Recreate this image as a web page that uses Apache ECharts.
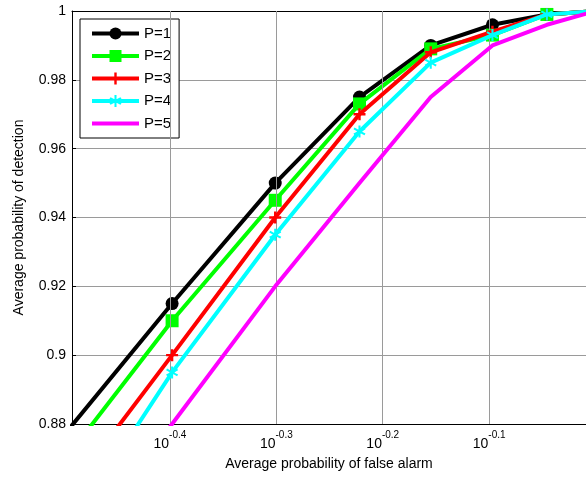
<!DOCTYPE html>
<html>
<head>
<meta charset="utf-8">
<script src="https://cdn.jsdelivr.net/npm/echarts@6/dist/echarts.min.js"></script>
<style>
html,body{margin:0;padding:0;background:#fff;}
#c{width:586px;height:478px;}
</style>
</head>
<body>
<div id="c"></div>
<script>
// False-alarm probabilities (x, plotted on a log10 axis)
const falseAlarm = [0.3, 0.4, 0.5, 0.6, 0.7, 0.8, 0.9, 1.0];
// Detection probabilities per P
const P1 = [0.868, 0.915, 0.950, 0.975, 0.990, 0.996, 0.999, 1.000];
const P2 = [0.860, 0.910, 0.945, 0.973, 0.989, 0.993, 0.999, 1.000];
const P3 = [0.849, 0.900, 0.940, 0.970, 0.988, 0.994, 0.999, 1.000];
const P4 = [0.836, 0.895, 0.935, 0.965, 0.985, 0.993, 0.999, 1.000];
const P5 = [0.830, 0.880, 0.920, 0.950, 0.975, 0.990, 0.996, 1.000];
const seriesNames = ['P=1', 'P=2', 'P=3', 'P=4', 'P=5'];
// x tick exponents (10^e)
const xTickExps = [-0.4, -0.3, -0.2, -0.1];

const colors = ['#000000', '#00ff00', '#ff0000', '#00ffff', '#ff00ff'];
const plusPath = 'path://M4,0H6V4H10V6H6V10H4V6H0V4H4Z';
const starPath = 'path://M4.2,0H5.8V3.6L8.9,1.8L9.7,3.2L6.6,5L9.7,6.8L8.9,8.2L5.8,6.4V10H4.2V6.4L1.1,8.2L0.3,6.8L3.4,5L0.3,3.2L1.1,1.8L4.2,3.6Z';
const lineOnlyIcon = 'path://M0,0L0.01,0L0,0.01Z M0,5.5H47V9.5H0Z M47,15L46.99,15L47,14.99Z';
const symbols = ['circle', 'rect', plusPath, starPath, 'none'];
const symbolSizes = [13, 13, 12, 12, 0];
const allData = [P1, P2, P3, P4, P5];

const series = allData.map((arr, i) => ({
  name: seriesNames[i],
  type: 'line',
  data: falseAlarm.map((x, j) => [Math.log10(x), arr[j]]),
  symbol: symbols[i],
  symbolSize: symbolSizes[i],
  showSymbol: symbols[i] !== 'none',
  lineStyle: {color: colors[i], width: 4},
  itemStyle: {color: colors[i], borderWidth: 0},
  clip: true,
  animation: false,
  z: 3 + i
}));

// vertical grid lines at the x ticks
series[0].markLine = {
  silent: true,
  symbol: 'none',
  label: {show: false},
  lineStyle: {color: '#9a9a9a', width: 1, type: 'solid'},
  animation: false,
  data: xTickExps.map(e => ({xAxis: e}))
};

const xMin = -0.492, xMax = -0.009;

const legendData = seriesNames.map((n, i) => i === 4
  ? {name: n, icon: lineOnlyIcon, itemStyle: {color: colors[i]}}
  : {name: n});

const option = {
  animation: false,
  backgroundColor: '#fff',
  grid: {left: 72, right: 0, top: 11, bottom: 54, containLabel: false},
  legend: {
    data: legendData,
    orient: 'vertical',
    left: 80, top: 19,
    itemWidth: 47, itemHeight: 15, itemGap: 7.5,
    padding: [7, 8, 7, 10],
    backgroundColor: '#fff',
    borderColor: '#000', borderWidth: 1,
    lineStyle: {width: 4},
    textStyle: {fontFamily: 'Liberation Sans, Arial', fontSize: 15, color: '#000'}
  },
  xAxis: [{
    type: 'value',
    min: xMin, max: xMax,
    position: 'bottom',
    name: 'Average probability of false alarm',
    nameLocation: 'middle',
    nameGap: 33,
    nameTextStyle: {fontFamily: 'Liberation Sans, Arial', fontSize: 14, color: '#000'},
    axisLine: {show: true, onZero: false, lineStyle: {color: '#000', width: 1}},
    axisTick: {show: true, inside: true, length: 4, customValues: xTickExps, lineStyle: {color: '#000'}},
    splitLine: {show: false},
    axisLabel: {
      customValues: xTickExps,
      margin: 4,
      formatter: v => '{b|10}{s|' + (Math.round(v * 10) / 10).toFixed(1) + '}',
      rich: {
        b: {fontFamily: 'Liberation Sans, Arial', fontSize: 14, color: '#000', padding: [9, 0, 0, 0]},
        s: {fontFamily: 'Liberation Sans, Arial', fontSize: 10, color: '#000', padding: [0, 0, 9, 0]}
      }
    }
  }, {
    type: 'value',
    min: xMin, max: xMax,
    position: 'top',
    axisLine: {show: true, onZero: false, lineStyle: {color: '#000', width: 1}},
    axisTick: {show: true, inside: true, length: 4, customValues: xTickExps, lineStyle: {color: '#000'}},
    axisLabel: {show: false},
    splitLine: {show: false}
  }],
  yAxis: {
    type: 'value',
    min: 0.88, max: 1, interval: 0.02,
    name: 'Average probability of detection',
    nameLocation: 'middle',
    nameGap: 46,
    nameRotate: 90,
    nameTextStyle: {fontFamily: 'Liberation Sans, Arial', fontSize: 14, color: '#000'},
    axisLine: {show: true, lineStyle: {color: '#000', width: 1}},
    axisTick: {show: true, inside: true, length: 4, lineStyle: {color: '#000'}},
    splitLine: {show: true, lineStyle: {color: '#9a9a9a', width: 1}},
    axisLabel: {
      margin: 6,
      fontFamily: 'Liberation Sans, Arial', fontSize: 14, color: '#000',
      formatter: v => String(parseFloat(v.toFixed(2)))
    }
  },
  series: series
};

const chart = echarts.init(document.getElementById('c'), null, {renderer: 'canvas'});
chart.setOption(option);
</script>
</body>
</html>
